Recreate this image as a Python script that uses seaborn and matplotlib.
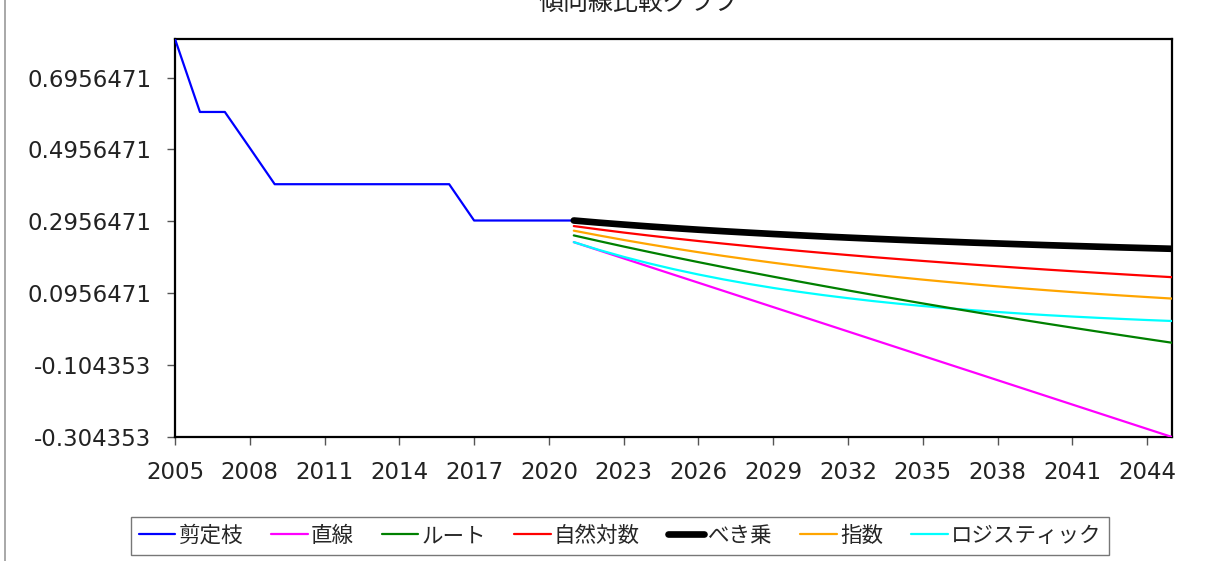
import matplotlib
matplotlib.use("Agg")
import matplotlib.pyplot as plt
import seaborn as sns
import pandas as pd
from matplotlib.lines import Line2D

# ---------------- data ----------------
title = "傾向線比較グラフ"

hist_years = list(range(2005, 2022))
pruned = [0.803, 0.600, 0.600, 0.500, 0.399, 0.399, 0.399, 0.399, 0.399,
          0.399, 0.399, 0.399, 0.298, 0.298, 0.298, 0.298, 0.298]

trend_years = list(range(2021, 2046))
linear = [0.2378, 0.2152, 0.1926, 0.1700, 0.1474, 0.1249, 0.1023, 0.0797, 0.0571,
          0.0345, 0.0119, -0.0107, -0.0333, -0.0559, -0.0785, -0.1011, -0.1236,
          -0.1462, -0.1688, -0.1914, -0.2140, -0.2366, -0.2592, -0.2818, -0.304353]
root = [0.2565, 0.2409, 0.2256, 0.2108, 0.1963, 0.1822, 0.1684, 0.1549, 0.1417,
        0.1287, 0.1160, 0.1035, 0.0912, 0.0792, 0.0673, 0.0556, 0.0442, 0.0328,
        0.0217, 0.0107, -0.0001, -0.0108, -0.0214, -0.0318, -0.0421]
natlog = [0.2825, 0.2733, 0.2645, 0.2563, 0.2484, 0.2409, 0.2337, 0.2268, 0.2202,
          0.2139, 0.2078, 0.2019, 0.1962, 0.1908, 0.1855, 0.1804, 0.1754, 0.1706,
          0.1659, 0.1613, 0.1569, 0.1526, 0.1484, 0.1443, 0.1403]
power = [0.2980, 0.2921, 0.2867, 0.2816, 0.2769, 0.2724, 0.2682, 0.2643, 0.2605,
         0.2570, 0.2536, 0.2504, 0.2474, 0.2445, 0.2417, 0.2391, 0.2365, 0.2341,
         0.2317, 0.2294, 0.2273, 0.2252, 0.2231, 0.2212, 0.2193]
expo = [0.2697, 0.2565, 0.2439, 0.2320, 0.2206, 0.2098, 0.1995, 0.1898, 0.1805,
        0.1716, 0.1632, 0.1552, 0.1476, 0.1404, 0.1335, 0.1270, 0.1208, 0.1148,
        0.1092, 0.1039, 0.0988, 0.0939, 0.0893, 0.0850, 0.0808]
logistic = [0.2378, 0.2164, 0.1969, 0.1790, 0.1627, 0.1478, 0.1342, 0.1218, 0.1104,
            0.1000, 0.0905, 0.0819, 0.0739, 0.0667, 0.0601, 0.0540, 0.0485, 0.0435,
            0.0389, 0.0346, 0.0308, 0.0273, 0.0241, 0.0211, 0.0184]

series_names = ["剪定枝", "直線", "ルート", "自然対数", "べき乗", "指数", "ロジスティック"]
series_colors = ["#0000FF", "#FF00FF", "#008000", "#FF0000", "#000000", "#FFA500", "#00FFFF"]

y_ticks = [-0.304353, -0.104353, 0.0956471, 0.2956471, 0.4956471, 0.6956471]
y_tick_labels = ["-0.304353", "-0.104353", "0.0956471", "0.2956471", "0.4956471", "0.6956471"]
x_ticks = list(range(2005, 2045, 3))

# ---------------- plot ----------------
sns.set_theme(style="white")
plt.rcParams["font.family"] = ["DejaVu Sans", "Noto Sans CJK JP"]

W, H = 1211, 561
fig = plt.figure(figsize=(W / 100, H / 100), dpi=100)
ax = fig.add_axes([175 / W, 1 - 437 / H, (1172 - 175) / W, (437 - 39) / H])

series_data = [
    (hist_years, pruned),
    (trend_years, linear),
    (trend_years, root),
    (trend_years, natlog),
    (trend_years, power),
    (trend_years, expo),
    (trend_years, logistic),
]
widths = [1.6, 1.6, 1.6, 1.6, 4.8, 1.6, 1.6]
# draw order: pruned, linear, logistic, root, expo, natlog, power on top
order = [0, 1, 6, 2, 5, 3, 4]
for i in order:
    xs, ys = series_data[i]
    df = pd.DataFrame({"year": xs, "value": ys})
    sns.lineplot(data=df, x="year", y="value", ax=ax, color=series_colors[i],
                 linewidth=widths[i], legend=False, zorder=3 + (i == 4))

ax.set_xlim(2005, 2045)
ax.set_ylim(-0.304353, 0.803)
ax.set_xticks(x_ticks)
ax.set_xticklabels([str(x) for x in x_ticks], fontsize=16.5)
ax.set_yticks(y_ticks)
ax.set_yticklabels(y_tick_labels, fontsize=16.5)
ax.set_xlabel("")
ax.set_ylabel("")
ax.grid(False)
for s in ax.spines.values():
    s.set_color("black")
    s.set_linewidth(1.6)
ax.tick_params(axis="both", direction="out", length=6, width=1, color="#555555",
               labelcolor="#222222", pad=11)
ax.tick_params(axis="both", which="both", bottom=True, left=True)

# title (partly cut at top as in reference)
fig.text(639 / W, 1 - 10 / H, title, ha="center", va="baseline", fontsize=18,
         color="#222222", family=["Noto Sans CJK JP", "DejaVu Sans"])

# left border line of the chart area
fig.add_artist(Line2D([5 / W, 5 / W], [0, 1], transform=fig.transFigure,
                      color="#999999", linewidth=1.2))

# legend
handles = [Line2D([0], [0], color=c, linewidth=w) for c, w in zip(series_colors, widths)]
leg = fig.legend(handles, series_names, loc="center", bbox_to_anchor=(620 / W, 1 - 536 / H),
                 ncol=7, frameon=True, fancybox=False, handlelength=1.7,
                 handletextpad=0.15, columnspacing=1.3, borderpad=0.35,
                 prop={"family": ["Noto Sans CJK JP", "DejaVu Sans"], "size": 15.5})
leg.get_frame().set_edgecolor("#555555")
leg.get_frame().set_linewidth(1.0)

fig.savefig("out.png", dpi=100, facecolor="white")
